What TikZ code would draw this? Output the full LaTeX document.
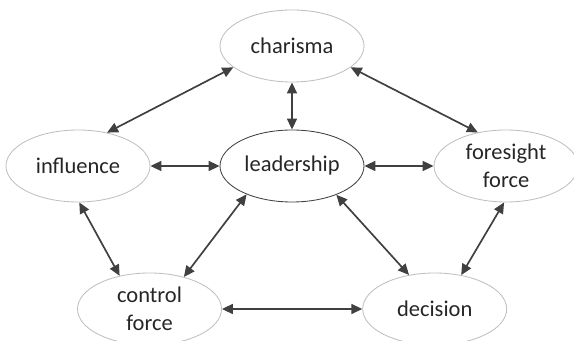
\documentclass[tikz,border=0pt]{standalone}
\usepackage{fontspec}
\setmainfont{Carlito}
\usetikzlibrary{arrows.meta,shapes.geometric}

\begin{document}
\begin{tikzpicture}[
	bubble/.style={ellipse, draw=black!25, line width=0.6pt, minimum width=3.6cm, minimum height=1.8cm, inner sep=0pt, align=center, font=\fontsize{16}{19.6}\selectfont, text=black!85},
	link/.style={{Triangle[length=7.8pt,width=7.1pt]}-{Triangle[length=7.8pt,width=7.1pt]}, draw=black!75, line width=1.2pt}
	]
		%%%%% START %%%%%
		\useasboundingbox (0, 0) rectangle (14.35, 8.525);
		
		\node[bubble] (charisma) at (7.3, 7.375) {charisma};
		\node[bubble] (influence) at (1.95, 4.375) {influence};
		\node[bubble, draw=black!75] (leadership) at (7.3, 4.375) {leadership};
		\node[bubble] (foresight) at (12.65, 4.375) {foresight\\force};
		\node[bubble] (control) at (3.7375, 0.8) {control\\force};
		\node[bubble] (decision) at (10.8675, 0.8) {decision};
		
		\draw[link] (charisma.south) -- (leadership.north);
		\draw[link] (influence.east) -- (leadership.west);
		\draw[link] (leadership.east) -- (foresight.west);
		\draw[link] (control.east) -- (decision.west);
		
		\draw[link] (charisma.200) -- (influence.49);
		\draw[link] (charisma.340) -- (foresight.130);
		\draw[link] (influence.272) -- (control.132);
		\draw[link] (leadership.212) -- (control.43);
		\draw[link] (leadership.327) -- (decision.127);
		\draw[link] (decision.52) -- (foresight.267);
		%%%%% END %%%%%
\end{tikzpicture}
\end{document}
